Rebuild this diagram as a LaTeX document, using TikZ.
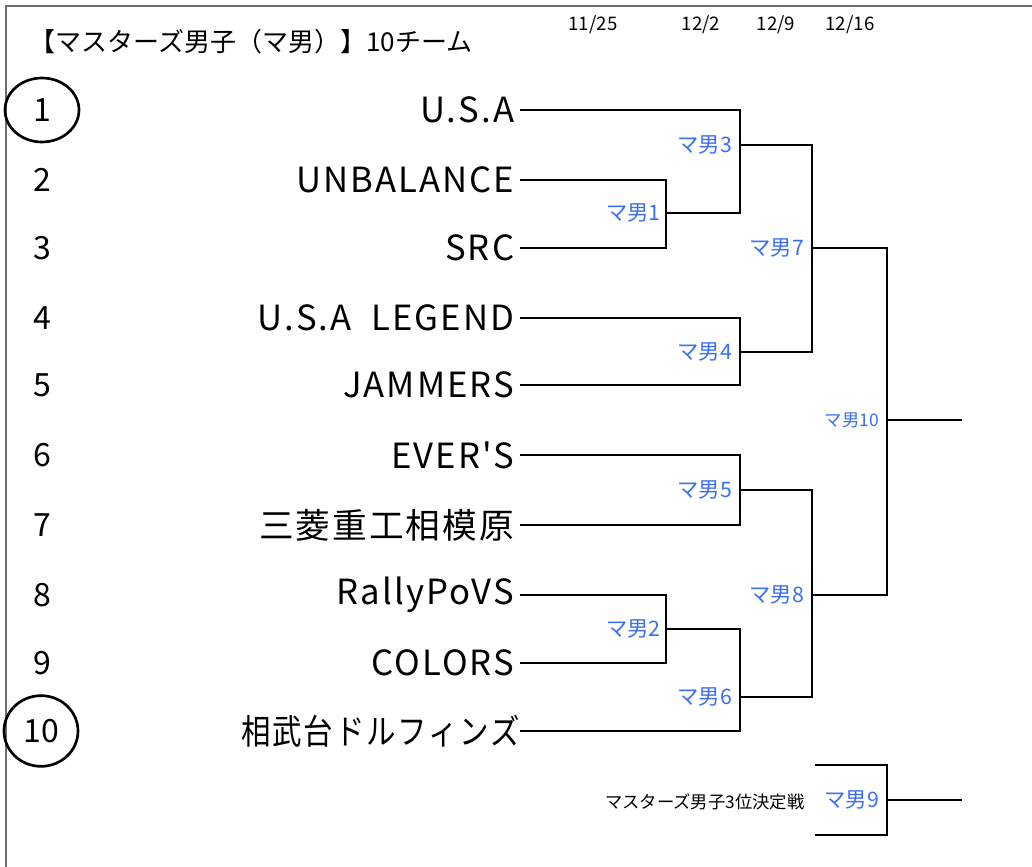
\documentclass[tikz,border=0pt]{standalone}
\usepackage{fontspec}
\usepackage{graphicx}
\setmainfont{Noto Sans CJK JP}
\newfontfamily\teamfont[LetterSpace=6]{Noto Sans CJK JP}
\usetikzlibrary{positioning,shapes.geometric}
\definecolor{matchblue}{RGB}{59,110,240}
\definecolor{framegray}{RGB}{110,110,110}

\tikzset{every picture/.style={line width=0.75pt}}

\begin{document}
\begin{tikzpicture}[x=0.75pt,y=0.75pt,yscale=-1,xscale=1,
    team/.style={anchor=east,inner sep=4pt,font=\teamfont\fontsize{26pt}{30pt}\selectfont},
    seed/.style={inner sep=0.75pt,font=\fontsize{24pt}{28pt}\selectfont},
    ring/.style={draw,ellipse,line width=2pt,minimum width=55.5pt,minimum height=48pt},
    match/.style={inner sep=0.75pt,text=matchblue,font=\fontsize{16pt}{19pt}\selectfont},
    date/.style={inner sep=0.75pt,font=\fontsize{14pt}{16pt}\selectfont},
    bracket/.style={line width=2pt}]
    \useasboundingbox (0,0) rectangle (1032,867);

    %Straight Lines (frame)
    \draw [color=framegray,line width=1.5pt] (6,867) -- (6,6) -- (1032,6) ;

    % Text Node (title)
    \node [anchor=west,inner sep=0.75pt,font=\fontsize{19.5pt}{23pt}\selectfont] (title) at (28,42) {【マスターズ男子（マ男）】10チーム};
    % Text Node (dates)
    \node [date] (d1) at (593,25) {11/25};
    \node [date] (d2) at (701,25) {12/2};
    \node [date] (d3) at (776,25) {12/9};
    \node [date] (d4) at (850,25) {12/16};

    % Text Node (seeds)
    \node [seed,ring] (s1) at (42,110) {1};
    \node [seed] (s2) at (42,180) {2};
    \node [seed] (s3) at (42,248) {3};
    \node [seed] (s4) at (42,318) {4};
    \node [seed] (s5) at (42,385) {5};
    \node [seed] (s6) at (42,455) {6};
    \node [seed] (s7) at (42,525) {7};
    \node [seed] (s8) at (42,595) {8};
    \node [seed] (s9) at (42,663) {9};
    \node [seed,ring,minimum height=53pt] (s10) at (41,731) {10};

    % Text Node (teams)
    \node [team] (t1) at (520,110) {U.S.A};
    \node [team] (t2) at (520,180) {UNBALANCE};
    \node [team] (t3) at (520,248) {SRC};
    \node [team] (t4) at (520,318) {U.S.A\ \ LEGEND};
    \node [team] (t5) at (520,385) {JAMMERS};
    \node [team] (t6) at (520,455) {EVER'S};
    \node [team] (t7) at (520,525) {三菱重工相模原};
    \node [team] (t8) at (520,595) {RallyPoVS};
    \node [team] (t9) at (520,663) {COLORS};
    \node [team,inner sep=0pt] (t10) at (520,731) {\scalebox{0.85}[1]{相武台ドルフィンズ}};

    % match points
    \coordinate (m1) at (666,213);
    \coordinate (m2) at (666,629);
    \coordinate (m3) at (740,145);
    \coordinate (m4) at (740,352);
    \coordinate (m5) at (740,490);
    \coordinate (m6) at (740,697);
    \coordinate (m7) at (812,248);
    \coordinate (m8) at (812,595);
    \coordinate (m10) at (887,420);
    \coordinate (w10) at (962,420);
    \coordinate (b1) at (815,765);
    \coordinate (b2) at (815,835);
    \coordinate (m9) at (887,800);
    \coordinate (w9) at (962,800);

    %Straight Lines (bracket)
    \draw [bracket] (t2.east) -| (m1) |- (t3.east) ;
    \draw [bracket] (t1.east) -| (m3) |- (m1) ;
    \draw [bracket] (t4.east) -| (m4) |- (t5.east) ;
    \draw [bracket] (m3) -| (m7) |- (m4) ;
    \draw [bracket] (t6.east) -| (m5) |- (t7.east) ;
    \draw [bracket] (t8.east) -| (m2) |- (t9.east) ;
    \draw [bracket] (m2) -| (m6) |- (t10.east) ;
    \draw [bracket] (m5) -| (m8) |- (m6) ;
    \draw [bracket] (m7) -| (m10) |- (m8) ;
    \draw [bracket] (m10) -- (w10) ;
    \draw [bracket] (b1) -| (m9) |- (b2) ;
    \draw [bracket] (m9) -- (w9) ;

    % Text Node (matches)
    \node [match,left=3pt of m1] (l1) {マ男1};
    \node [match,left=3pt of m2] (l2) {マ男2};
    \node [match,left=5pt of m3] (l3) {マ男3};
    \node [match,left=5pt of m4] (l4) {マ男4};
    \node [match,left=5pt of m5] (l5) {マ男5};
    \node [match,left=5pt of m6] (l6) {マ男6};
    \node [match,left=5pt of m7] (l7) {マ男7};
    \node [match,left=5pt of m8] (l8) {マ男8};
    \node [match,left=5pt of m9] (l9) {マ男9};
    \node [match,left=5pt of m10,font=\fontsize{13pt}{15pt}\selectfont] (l10) {マ男10};
    \node [inner sep=0.75pt,anchor=east,font=\fontsize{13pt}{15pt}\selectfont] (third) at (806,802) {マスターズ男子3位決定戦};

\end{tikzpicture}
\end{document}
